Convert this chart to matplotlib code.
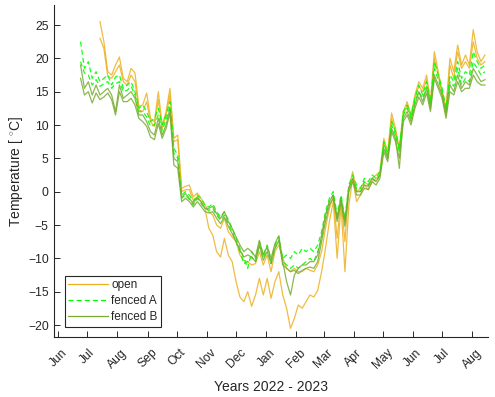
import numpy as np
import pandas as pd
import matplotlib
matplotlib.use('Agg')
import matplotlib.pyplot as plt
import matplotlib.dates as mdates

nan = np.nan
dates = pd.date_range('2022-06-24', periods=105, freq='4D')

open_1 = [nan, nan, nan, nan, nan, 25.5, 22.5, 18.0, 17.5, 19.0,
          20.2, 17.0, 16.5, 18.5, 17.8, 12.8, 13.0, 14.8, 11.0, 10.5,
          15.0, 10.0, 12.0, 15.5, 8.0, 8.5, 0.5, 0.8, 1.0, -0.8,
          -0.2, -1.0, -2.0, -3.0, -3.5, -5.0, -5.5, -4.0, -6.0, -6.8,
          -7.5, -9.5, -10.3, -10.5, -11.0, -10.8, -9.0, -11.0, -9.5, -12.0,
          -9.0, -8.0, -10.0, -11.5, -12.0, -11.5, -12.0, -12.0, -11.5, -11.8,
          -12.0, -11.0, -9.0, -5.5, -2.5, -0.8, -7.0, -1.0, -7.5, 0.5,
          3.0, 0.0, 0.5, 1.5, 1.0, 2.0, 2.5, 3.0, 8.0, 6.0,
          11.8, 9.5, 6.5, 12.0, 13.5, 11.5, 14.5, 16.5, 15.5, 17.5,
          13.5, 21.0, 18.0, 15.0, 12.5, 20.0, 18.0, 22.0, 19.0, 20.5,
          19.0, 24.3, 21.0, 19.5, 20.5]
open_2 = [nan, nan, nan, nan, nan, 23.0, 21.5, 17.3, 17.0, 18.0,
          19.0, 16.5, 16.0, 17.5, 16.5, 12.3, 12.0, 13.5, 10.5, 9.8,
          13.8, 9.5, 11.5, 14.5, 7.5, 7.8, 0.0, 0.3, 0.3, -1.3,
          -0.8, -1.5, -2.5, -5.5, -6.5, -9.0, -9.8, -7.0, -9.5, -10.5,
          -13.5, -15.8, -16.5, -15.0, -17.2, -15.5, -13.0, -15.5, -13.0, -16.0,
          -13.5, -12.0, -15.5, -17.5, -20.5, -19.0, -17.0, -17.5, -16.5, -15.5,
          -15.8, -14.8, -12.0, -8.5, -4.5, -1.5, -10.0, -2.0, -12.0, -2.0,
          2.0, -1.5, -0.5, 1.0, 0.3, 1.5, 2.0, 2.5, 7.5, 5.5,
          11.0, 9.0, 6.0, 11.5, 13.0, 11.0, 14.0, 15.8, 15.0, 16.8,
          13.0, 20.0, 17.5, 14.5, 12.0, 19.0, 17.0, 21.0, 18.5, 19.5,
          18.5, 22.5, 20.0, 19.0, 19.5]
fenced_a_1 = [22.5, 18.5, 19.5, 17.0, 18.0, 16.5, 17.0, 17.5, 16.0, 17.2,
              17.5, 15.5, 16.0, 16.5, 15.0, 12.5, 13.0, 12.0, 10.5, 11.0,
              12.5, 10.0, 11.5, 13.5, 6.5, 5.5, -0.5, 0.0, -0.5, -1.5,
              -0.5, -1.0, -2.0, -2.3, -1.8, -3.0, -3.8, -3.0, -4.2, -5.5,
              -7.0, -8.5, -10.0, -11.5, -9.0, -10.0, -7.5, -9.5, -8.0, -10.3,
              -8.0, -6.8, -10.0, -9.5, -10.0, -9.0, -9.5, -8.5, -9.0, -8.5,
              -9.0, -8.0, -6.0, -3.0, -1.0, 0.0, -3.5, -0.5, -4.0, 1.0,
              2.5, 1.0, 0.5, 2.0, 1.5, 2.5, 2.0, 3.0, 7.5, 5.5,
              10.5, 9.0, 6.5, 12.0, 13.0, 11.5, 14.0, 16.0, 14.5, 16.5,
              13.5, 19.5, 17.5, 15.5, 12.5, 17.5, 16.5, 19.5, 17.0, 18.0,
              17.5, 21.0, 19.5, 18.5, 19.0]
fenced_a_2 = [19.5, 17.8, 17.5, 16.0, 16.8, 15.8, 16.2, 16.5, 15.5, 16.2,
              16.5, 15.0, 15.2, 15.8, 14.5, 12.0, 12.0, 11.2, 9.8, 10.0,
              11.5, 9.2, 10.8, 12.8, 5.8, 5.0, -1.0, -0.5, -1.2, -2.0,
              -1.0, -1.8, -2.5, -2.8, -2.5, -3.5, -4.3, -3.5, -4.8, -6.0,
              -7.5, -9.0, -10.8, -10.5, -9.8, -10.5, -8.0, -10.0, -8.5, -10.8,
              -8.5, -7.3, -10.5, -11.0, -11.5, -11.0, -11.5, -11.0, -10.5, -10.0,
              -10.5, -9.0, -7.0, -3.8, -1.5, -0.5, -4.0, -1.0, -4.5, 0.5,
              2.0, 0.5, 0.0, 1.5, 1.0, 2.0, 1.5, 2.5, 7.0, 5.0,
              10.0, 8.5, 6.0, 11.5, 12.5, 11.0, 13.5, 15.0, 14.0, 15.8,
              13.0, 18.5, 16.8, 15.0, 12.0, 16.5, 15.8, 18.5, 16.0, 17.0,
              16.5, 19.5, 18.5, 17.5, 18.0]
fenced_b_1 = [19.0, 15.5, 16.5, 14.5, 16.0, 14.5, 15.0, 15.5, 14.5, 12.0,
              16.0, 14.0, 14.5, 15.0, 14.0, 11.5, 11.5, 10.5, 9.0, 8.5,
              11.0, 8.5, 10.0, 12.5, 5.0, 4.5, -0.8, -0.3, -1.0, -1.8,
              -0.8, -1.5, -2.5, -2.5, -2.2, -3.3, -4.0, -3.0, -4.5, -5.5,
              -6.8, -8.0, -9.0, -8.5, -9.0, -9.8, -7.3, -9.5, -8.2, -10.0,
              -7.8, -6.6, -10.5, -13.5, -15.5, -12.5, -11.5, -11.0, -11.0, -10.5,
              -10.5, -9.5, -6.5, -3.5, -1.5, -0.5, -4.0, -1.0, -4.5, 0.5,
              2.0, 0.0, 0.0, 1.0, 0.8, 2.0, 1.5, 2.5, 6.5, 5.0,
              9.5, 8.0, 3.5, 11.0, 12.0, 10.5, 13.0, 15.0, 13.5, 15.5,
              12.5, 17.5, 16.0, 14.5, 11.5, 16.0, 15.0, 17.5, 15.5, 16.5,
              16.0, 18.5, 17.5, 16.5, 16.8]
fenced_b_2 = [17.0, 14.5, 15.0, 13.3, 14.8, 13.8, 14.2, 14.8, 13.8, 11.5,
              15.0, 13.5, 13.5, 14.0, 13.0, 11.0, 10.5, 9.8, 8.2, 7.8,
              10.2, 8.0, 9.5, 11.8, 4.0, 3.5, -1.5, -1.0, -1.5, -2.3,
              -1.5, -2.2, -3.0, -3.2, -3.0, -4.0, -4.8, -3.8, -5.2, -6.3,
              -7.5, -8.8, -9.8, -9.5, -9.8, -10.5, -8.0, -10.3, -9.0, -10.8,
              -8.5, -7.3, -11.0, -11.5, -12.0, -11.8, -12.3, -11.8, -11.5, -11.3,
              -11.5, -10.5, -7.5, -4.5, -2.0, -1.0, -4.5, -1.5, -5.2, 0.0,
              1.5, -0.5, -0.5, 0.5, 0.3, 1.5, 1.0, 2.0, 6.0, 4.5,
              9.0, 7.5, 5.0, 10.5, 11.5, 10.0, 12.5, 14.2, 13.0, 14.8,
              12.0, 17.0, 15.5, 14.0, 11.0, 15.0, 14.5, 16.5, 15.0, 15.5,
              15.5, 17.5, 16.5, 16.0, 16.0]

labels = ['open', 'fenced A', 'fenced B']
c_open = '#EDB120'
c_a = '#00FF00'
c_b = '#77AC30'
txt = '#262626'

plt.rcParams['font.family'] = ['Liberation Sans', 'DejaVu Sans']
plt.rcParams['mathtext.fontset'] = 'custom'
plt.rcParams['mathtext.rm'] = 'Liberation Sans'

fig = plt.figure(figsize=(4.95, 3.97), dpi=100)
ax = fig.add_axes([54.3/495, 60/397, (488.3-54.3)/495, 332/397])

lw = 0.9
l1, = ax.plot(dates, open_1, color=c_open, lw=lw, alpha=0.85, label=labels[0])
ax.plot(dates, open_2, color=c_open, lw=lw, alpha=0.85)
l2, = ax.plot(dates, fenced_a_1, color=c_a, lw=lw, ls=(0, (4, 2.5)), alpha=0.9, label=labels[1])
ax.plot(dates, fenced_a_2, color=c_a, lw=lw, ls=(0, (4, 2.5)), alpha=0.9)
l3, = ax.plot(dates, fenced_b_1, color=c_b, lw=lw, alpha=0.85, label=labels[2])
ax.plot(dates, fenced_b_2, color=c_b, lw=lw, alpha=0.85)

ax.set_xlim(pd.Timestamp('2022-05-28'), pd.Timestamp('2023-08-17 12:00'))
ax.set_ylim(-21.8, 28)
ax.set_yticks(np.arange(-20, 26, 5))
ax.xaxis.set_major_locator(mdates.MonthLocator())
ax.xaxis.set_major_formatter(mdates.DateFormatter('%b'))

for s in ['top', 'right']:
    ax.spines[s].set_visible(False)
for s in ['left', 'bottom']:
    ax.spines[s].set_color(txt)
    ax.spines[s].set_linewidth(0.8)

ax.tick_params(axis='both', direction='in', length=4, width=0.7, colors=txt, labelsize=8.75)
ax.tick_params(axis='y', pad=4)
ax.tick_params(axis='x', pad=7)
for lab in ax.get_xticklabels():
    lab.set_rotation(45)
    lab.set_ha('center')
    lab.set_va('top')

ax.set_xlabel('Years 2022 - 2023', fontsize=10, color=txt, labelpad=6)
ax.set_ylabel(r'Temperature [ $^{\circ}$C]', fontsize=10, color=txt, labelpad=2)

leg = ax.legend(handles=[l1, l2, l3], loc='lower left', bbox_to_anchor=(0.024, 0.03),
                borderaxespad=0, fontsize=8.5, frameon=True, fancybox=False,
                handlelength=3.4, handletextpad=0.25, labelspacing=0.35,
                borderpad=0.3)
leg.get_frame().set_edgecolor(txt)
leg.get_frame().set_linewidth(0.8)
leg.get_frame().set_alpha(1)
for h in leg.get_lines():
    h.set_alpha(1)
for t in leg.get_texts():
    t.set_color(txt)

fig.savefig('out.png', dpi=100)
